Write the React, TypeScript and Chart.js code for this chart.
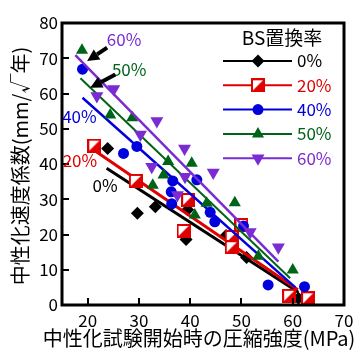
import React, { useEffect, useRef } from "react";
import { Chart, registerables } from "chart.js";
Chart.register(...registerables);

// ---- data ----
const seriesNames = ["0%", "20%", "40%", "50%", "60%"];
const legendTitle = "BS置換率";
const xTitle = "中性化試験開始時の圧縮強度(MPa)";
const yTitle = "中性化速度係数(mm/√年)";
const xTicks = [20, 30, 40, 50, 60, 70];
const yTicks = [0, 10, 20, 30, 40, 50, 60, 70, 80];

const x0 = [23.9, 29.7, 33.2, 39.5, 39.2, 47.0, 51.0, 61.1];
const y0 = [44.4, 26.0, 27.9, 27.0, 18.6, 19.7, 13.5, 1.9];
const x20 = [21.3, 29.4, 39.6, 38.7, 48.1, 48.1, 50.0, 59.3, 63.0];
const y20 = [45.2, 35.2, 29.8, 21.0, 19.3, 16.4, 22.7, 2.6, 1.9];
const x40 = [19.0, 27.0, 29.6, 36.6, 41.3, 36.3, 36.4, 43.9, 44.8, 50.4, 55.2, 62.3];
const y40 = [66.9, 43.0, 45.0, 35.2, 35.5, 32.1, 28.7, 26.3, 23.6, 22.4, 5.7, 5.2];
const x50 = [18.9, 24.4, 28.7, 35.7, 40.3, 34.8, 32.7, 40.9, 43.2, 48.7, 53.3, 60.0];
const y50 = [72.3, 53.9, 53.1, 40.7, 40.2, 36.9, 34.0, 25.5, 28.9, 29.0, 13.8, 9.9];
const x60 = [21.8, 25.1, 33.5, 30.3, 38.9, 32.5, 39.0, 44.5, 37.5, 51.7, 57.2];
const y60 = [59.3, 61.3, 52.2, 48.4, 44.4, 39.2, 36.4, 37.6, 31.2, 20.7, 16.4];

// regression line end points
const fitX0 = [23.7, 61.1];
const fitY0 = [38.8, 3.6];
const fitX20 = [21.2, 61.0];
const fitY20 = [44.0, 4.3];
const fitX40 = [19.0, 60.5];
const fitY40 = [58.8, 5.0];
const fitX50 = [18.6, 59.5];
const fitY50 = [64.3, 7.6];
const fitX60 = [17.6, 57.2];
const fitY60 = [70.9, 12.3];

// annotation labels (data coords)
const labelText = ["60%", "50%", "40%", "20%", "0%"];
const labelX = [27.1, 28.1, 18.4, 18.5, 23.4];
const labelY = [75.2, 66.7, 53.6, 40.9, 34.0];
const labelSeries = [4, 3, 2, 1, 0];
// arrows: tail -> tip
const arrowTailX = [23.8, 25.4];
const arrowTailY = [73.0, 65.4];
const arrowTipX = [19.9, 20.5];
const arrowTipY = [69.2, 61.6];

const colors = ["#000000", "#e00000", "#0000dc", "#006418", "#7a2cd2"];
const lineWidths = [3, 3, 2.5, 2, 2.5];

const FONT = "'Noto Sans CJK JP', 'Noto Sans', sans-serif";

function makeHalfSquare(size: number, color: string) {
  const c = document.createElement("canvas");
  c.width = size;
  c.height = size;
  const g = c.getContext("2d")!;
  g.fillStyle = "#ffffff";
  g.fillRect(0, 0, size, size);
  g.fillStyle = color;
  g.beginPath();
  g.moveTo(size, 0);
  g.lineTo(size, size);
  g.lineTo(0, size);
  g.closePath();
  g.fill();
  g.strokeStyle = color;
  g.lineWidth = 2;
  g.strokeRect(1, 1, size - 2, size - 2);
  return c;
}

function drawMarker(ctx: CanvasRenderingContext2D, i: number, x: number, y: number, sq: HTMLCanvasElement) {
  ctx.save();
  ctx.fillStyle = colors[i];
  ctx.beginPath();
  if (i === 0) {
    const r = 6.5;
    ctx.moveTo(x, y - r);
    ctx.lineTo(x + r, y);
    ctx.lineTo(x, y + r);
    ctx.lineTo(x - r, y);
    ctx.closePath();
    ctx.fill();
  } else if (i === 1) {
    ctx.drawImage(sq, x - sq.width / 2, y - sq.height / 2);
  } else if (i === 2) {
    ctx.arc(x, y, 5.5, 0, Math.PI * 2);
    ctx.fill();
  } else if (i === 3) {
    const r = 7;
    ctx.moveTo(x, y - r);
    ctx.lineTo(x + r * 0.866, y + r * 0.5);
    ctx.lineTo(x - r * 0.866, y + r * 0.5);
    ctx.closePath();
    ctx.fill();
  } else {
    const r = 7.5;
    ctx.moveTo(x, y + r);
    ctx.lineTo(x + r * 0.866, y - r * 0.5);
    ctx.lineTo(x - r * 0.866, y - r * 0.5);
    ctx.closePath();
    ctx.fill();
  }
  ctx.restore();
}

export default function App() {
  const ref = useRef<HTMLCanvasElement | null>(null);

  useEffect(() => {
    document.body.style.margin = "0";
    const canvas = ref.current!;
    const sq = makeHalfSquare(14, colors[1]);

    const xs = [x0, x20, x40, x50, x60];
    const ys = [y0, y20, y40, y50, y60];
    const fxs = [fitX0, fitX20, fitX40, fitX50, fitX60];
    const fys = [fitY0, fitY20, fitY40, fitY50, fitY60];
    const styles: any[] = ["rectRot", sq, "circle", "triangle", "triangle"];
    const radii = [6.5, 7, 5.5, 7, 7.5];
    const rotations = [0, 0, 0, 0, 180];

    const datasets: any[] = [];
    for (let i = 0; i < 5; i++) {
      datasets.push({
        label: seriesNames[i] + " fit",
        data: fxs[i].map((v, k) => ({ x: v, y: fys[i][k] })),
        showLine: true,
        borderColor: colors[i],
        borderWidth: lineWidths[i],
        pointRadius: 0,
        order: (4 - i) * 2 + 1,
      });
      datasets.push({
        label: seriesNames[i],
        data: xs[i].map((v, k) => ({ x: v, y: ys[i][k] })),
        showLine: false,
        pointStyle: styles[i],
        pointRadius: radii[i],
        pointRotation: rotations[i],
        backgroundColor: colors[i],
        borderColor: colors[i],
        borderWidth: 0,
        order: (4 - i) * 2,
      });
    }

    const decor = {
      id: "decor",
      afterDraw(chart: any) {
        const ctx: CanvasRenderingContext2D = chart.ctx;
        const a = chart.chartArea;
        const xs_ = chart.scales.x;
        const ys_ = chart.scales.y;
        ctx.save();
        // inner ticks
        ctx.strokeStyle = "#000";
        ctx.lineWidth = 2;
        yTicks.forEach((v) => {
          if (v <= ys_.min || v >= ys_.max) return;
          const p = Math.round(ys_.getPixelForValue(v));
          ctx.beginPath();
          ctx.moveTo(a.left, p);
          ctx.lineTo(a.left + 7, p);
          ctx.stroke();
        });
        xTicks.forEach((v) => {
          if (v <= xs_.min || v >= xs_.max) return;
          const p = Math.round(xs_.getPixelForValue(v));
          ctx.beginPath();
          ctx.moveTo(p, a.bottom);
          ctx.lineTo(p, a.bottom - 7);
          ctx.stroke();
        });
        // border
        ctx.lineWidth = 3;
        ctx.strokeRect(a.left, a.top, a.right - a.left, a.bottom - a.top);

        // axis titles
        ctx.fillStyle = "#000";
        ctx.font = `20px ${FONT}`;
        ctx.textAlign = "center";
        ctx.textBaseline = "middle";
        ctx.fillText(xTitle, (a.left + a.right) / 2 - 4, 338);
        ctx.save();
        ctx.translate(20, (a.top + a.bottom) / 2 + 2);
        ctx.rotate(-Math.PI / 2);
        ctx.fillText(yTitle, 0, 0);
        ctx.restore();

        // legend
        ctx.font = `19px ${FONT}`;
        ctx.fillStyle = "#000";
        ctx.textAlign = "center";
        ctx.fillText(legendTitle, a.right - 62, a.top + 15);
        for (let i = 0; i < 5; i++) {
          const y = a.top + 38 + i * 24.3;
          ctx.strokeStyle = colors[i];
          ctx.lineWidth = 2;
          ctx.beginPath();
          ctx.moveTo(a.right - 121, y);
          ctx.lineTo(a.right - 52, y);
          ctx.stroke();
          drawMarker(ctx, i, a.right - 86, y, sq);
          ctx.fillStyle = colors[i];
          ctx.font = `17px ${FONT}`;
          ctx.textAlign = "left";
          ctx.fillText(seriesNames[i], a.right - 47, y);
        }

        // annotation labels
        ctx.font = `17px ${FONT}`;
        ctx.textAlign = "center";
        labelText.forEach((t, k) => {
          ctx.fillStyle = colors[labelSeries[k]];
          ctx.fillText(t, xs_.getPixelForValue(labelX[k]), ys_.getPixelForValue(labelY[k]));
        });
        // arrows
        ctx.fillStyle = "#000";
        ctx.strokeStyle = "#000";
        arrowTipX.forEach((_, k) => {
          const tx = xs_.getPixelForValue(arrowTailX[k]);
          const ty = ys_.getPixelForValue(arrowTailY[k]);
          const hx = xs_.getPixelForValue(arrowTipX[k]);
          const hy = ys_.getPixelForValue(arrowTipY[k]);
          const ang = Math.atan2(hy - ty, hx - tx);
          const hl = 12, hw = 6;
          const bx = hx - hl * Math.cos(ang);
          const by = hy - hl * Math.sin(ang);
          ctx.lineWidth = 4;
          ctx.beginPath();
          ctx.moveTo(tx, ty);
          ctx.lineTo(bx, by);
          ctx.stroke();
          ctx.beginPath();
          ctx.moveTo(hx, hy);
          ctx.lineTo(bx + hw * Math.sin(ang), by - hw * Math.cos(ang));
          ctx.lineTo(bx - hw * Math.sin(ang), by + hw * Math.cos(ang));
          ctx.closePath();
          ctx.fill();
        });
        ctx.restore();
      },
    };

    const chart = new Chart(canvas, {
      type: "scatter",
      data: { datasets },
      options: {
        animation: false,
        responsive: false,
        devicePixelRatio: 1,
        layout: { padding: { left: 0, right: 20, top: 23, bottom: 0 } },
        plugins: { legend: { display: false }, tooltip: { enabled: false } },
        scales: {
          x: {
            type: "linear",
            min: 15,
            max: 70,
            grid: { display: false, drawTicks: false },
            border: { display: false },
            afterBuildTicks: (s: any) => {
              s.ticks = xTicks.map((v) => ({ value: v }));
            },
            afterFit: (s: any) => {
              s.height = 48;
            },
            ticks: {
              padding: 5,
              color: "#000",
              maxRotation: 0,
              autoSkip: false,
              font: { family: FONT, size: 17 },
            },
          },
          y: {
            type: "linear",
            min: 0,
            max: 80,
            grid: { display: false, drawTicks: false },
            border: { display: false },
            afterBuildTicks: (s: any) => {
              s.ticks = yTicks.map((v) => ({ value: v }));
            },
            afterFit: (s: any) => {
              s.width = 62;
            },
            ticks: {
              padding: 4,
              color: "#000",
              autoSkip: false,
              font: { family: FONT, size: 17 },
            },
          },
        },
      },
      plugins: [decor],
    } as any);

    return () => chart.destroy();
  }, []);

  return (
    <div style={{ width: 364, height: 353, background: "#fff" }}>
      <canvas ref={ref} width={364} height={353} />
    </div>
  );
}
